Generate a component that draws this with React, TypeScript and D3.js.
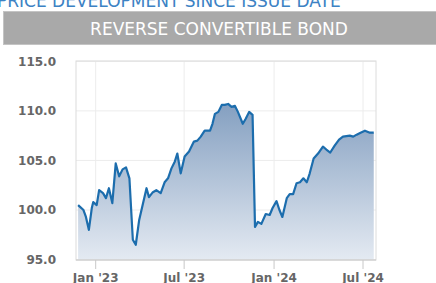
import React from "react";
import * as d3 from "d3";

const title = "PRICE DEVELOPMENT SINCE ISSUE DATE";
const header = "REVERSE CONVERTIBLE BOND";

const dates: string[] = [
  "2022-11-26", "2022-12-07", "2022-12-12", "2022-12-18", "2022-12-24", "2022-12-27",
  "2023-01-03", "2023-01-08", "2023-01-16", "2023-01-22", "2023-01-28", "2023-02-04",
  "2023-02-11", "2023-02-18", "2023-02-25", "2023-03-04", "2023-03-11", "2023-03-18",
  "2023-03-24", "2023-03-31", "2023-04-08", "2023-04-15", "2023-04-20", "2023-04-28",
  "2023-05-05", "2023-05-14", "2023-05-22", "2023-05-29", "2023-06-05", "2023-06-12",
  "2023-06-17", "2023-06-24", "2023-07-02", "2023-07-11", "2023-07-21", "2023-07-28",
  "2023-08-04", "2023-08-12", "2023-08-23", "2023-08-28", "2023-09-02", "2023-09-09",
  "2023-09-16", "2023-09-22", "2023-09-29", "2023-10-06", "2023-10-13", "2023-10-19",
  "2023-10-29", "2023-11-04", "2023-11-11", "2023-11-18", "2023-11-23", "2023-11-29",
  "2023-12-06", "2023-12-15", "2023-12-23", "2023-12-29", "2024-01-06", "2024-01-12",
  "2024-01-18", "2024-01-27", "2024-02-02", "2024-02-09", "2024-02-16", "2024-02-23",
  "2024-03-01", "2024-03-08", "2024-03-14", "2024-03-22", "2024-03-31", "2024-04-10",
  "2024-04-17", "2024-04-25", "2024-05-04", "2024-05-13", "2024-05-21", "2024-06-04",
  "2024-06-11", "2024-06-18", "2024-06-26", "2024-07-05", "2024-07-15", "2024-07-23",
];

const prices: number[] = [
  100.5, 100.0, 99.3, 98.0, 100.2, 100.8,
  100.5, 102.0, 101.7, 101.2, 102.2, 100.7,
  104.7, 103.4, 104.1, 104.3, 103.2, 97.0,
  96.5, 99.0, 100.7, 102.2, 101.3, 101.8,
  102.0, 101.7, 102.8, 103.2, 104.2, 104.9,
  105.7, 103.7, 105.4, 105.9, 106.9, 107.0,
  107.4, 108.0, 108.0, 108.7, 109.7, 109.9,
  110.6, 110.6, 110.7, 110.4, 110.5, 109.9,
  108.7, 109.2, 109.9, 109.6, 98.3, 98.8,
  98.6, 99.6, 99.5, 100.2, 100.9, 100.0,
  99.3, 101.2, 101.6, 101.6, 102.7, 102.8,
  103.2, 102.8, 103.7, 105.2, 105.7, 106.4,
  106.1, 105.8, 106.5, 107.1, 107.4, 107.5,
  107.4, 107.6, 107.8, 108.0, 107.8, 107.8,
];

const yTicks: number[] = [95, 100, 105, 110, 115];
const xTickDates: string[] = ["2023-01-01", "2023-07-01", "2024-01-01", "2024-07-01"];
const xTickLabels: string[] = ["Jan '23", "Jul '23", "Jan '24", "Jul '24"];

const W = 436;
const H = 283;
const plotLeft = 76;
const plotRight = 376;
const plotTop = 61;
const plotBottom = 260;

export default function App() {
  const parse = d3.utcParse("%Y-%m-%d");
  const data = dates.map((d, i) => ({ date: parse(d) as Date, value: prices[i] }));
  const x = d3
    .scaleUtc()
    .domain([parse("2023-01-01") as Date, parse("2024-07-01") as Date])
    .range([95.7, 363]);
  const y = d3.scaleLinear().domain([95, 115]).range([259.6, 61.3]);

  const line = d3
    .line<{ date: Date; value: number }>()
    .x((d) => x(d.date))
    .y((d) => y(d.value));
  const area = d3
    .area<{ date: Date; value: number }>()
    .x((d) => x(d.date))
    .y0(y(95))
    .y1((d) => y(d.value));

  const font = "'DejaVu Sans', Verdana, sans-serif";

  return (
    <svg
      width={W}
      height={H}
      style={{ position: "absolute", left: 0, top: 0, background: "#fff" }}
    >
      <defs>
        <linearGradient id="fillGrad" gradientUnits="userSpaceOnUse" x1="0" y1={plotTop} x2="0" y2={plotBottom}>
          <stop offset="0%" stopColor="#6a8bb3" />
          <stop offset="100%" stopColor="#e4eaf2" />
        </linearGradient>
      </defs>

      <text x={-3} y={7} fontFamily={font} fontSize={17} fill="#3c82c4">
        {title}
      </text>

      <rect x={3.5} y={11.5} width={440} height={33} fill="#a9a9a9" stroke="#c4c4c4" strokeWidth={1} />
      <text x={219} y={35} textAnchor="middle" fontFamily={font} fontSize={17} fill="#ffffff">
        {header}
      </text>

      {yTicks.map((t) => (
        <line key={"g" + t} x1={plotLeft} x2={plotRight} y1={y(t)} y2={y(t)} stroke="#ececec" strokeWidth={1} />
      ))}
      {xTickDates.map((d) => {
        const xx = x(parse(d) as Date);
        return <line key={"v" + d} x1={xx} x2={xx} y1={plotTop} y2={plotBottom} stroke="#ececec" strokeWidth={1} />;
      })}

      <path d={area(data) || ""} fill="url(#fillGrad)" />
      <path d={line(data) || ""} fill="none" stroke="#1c6dad" strokeWidth={2.2} strokeLinejoin="round" />

      <rect
        x={plotLeft}
        y={plotTop}
        width={plotRight - plotLeft}
        height={plotBottom - plotTop}
        fill="none"
        stroke="#dcdcdc"
        strokeWidth={1}
      />
      <line x1={plotLeft} x2={plotRight} y1={plotBottom} y2={plotBottom} stroke="#c8c8c8" strokeWidth={1} />

      {yTicks.map((t) => (
        <text
          key={"yl" + t}
          x={56}
          y={y(t)}
          dy="0.35em"
          textAnchor="end"
          fontFamily={font}
          fontWeight="bold"
          fontSize={12}
          fill="#666666"
        >
          {t.toFixed(1)}
        </text>
      ))}

      {xTickDates.map((d, i) => {
        const xx = x(parse(d) as Date);
        return (
          <g key={"xt" + d}>
            <line x1={xx} x2={xx} y1={plotBottom} y2={plotBottom + 9} stroke="#c8c8c8" strokeWidth={1} />
            <text x={xx} y={282} textAnchor="middle" fontFamily={font} fontWeight="bold" fontSize={12} fill="#666666">
              {xTickLabels[i]}
            </text>
          </g>
        );
      })}
    </svg>
  );
}
